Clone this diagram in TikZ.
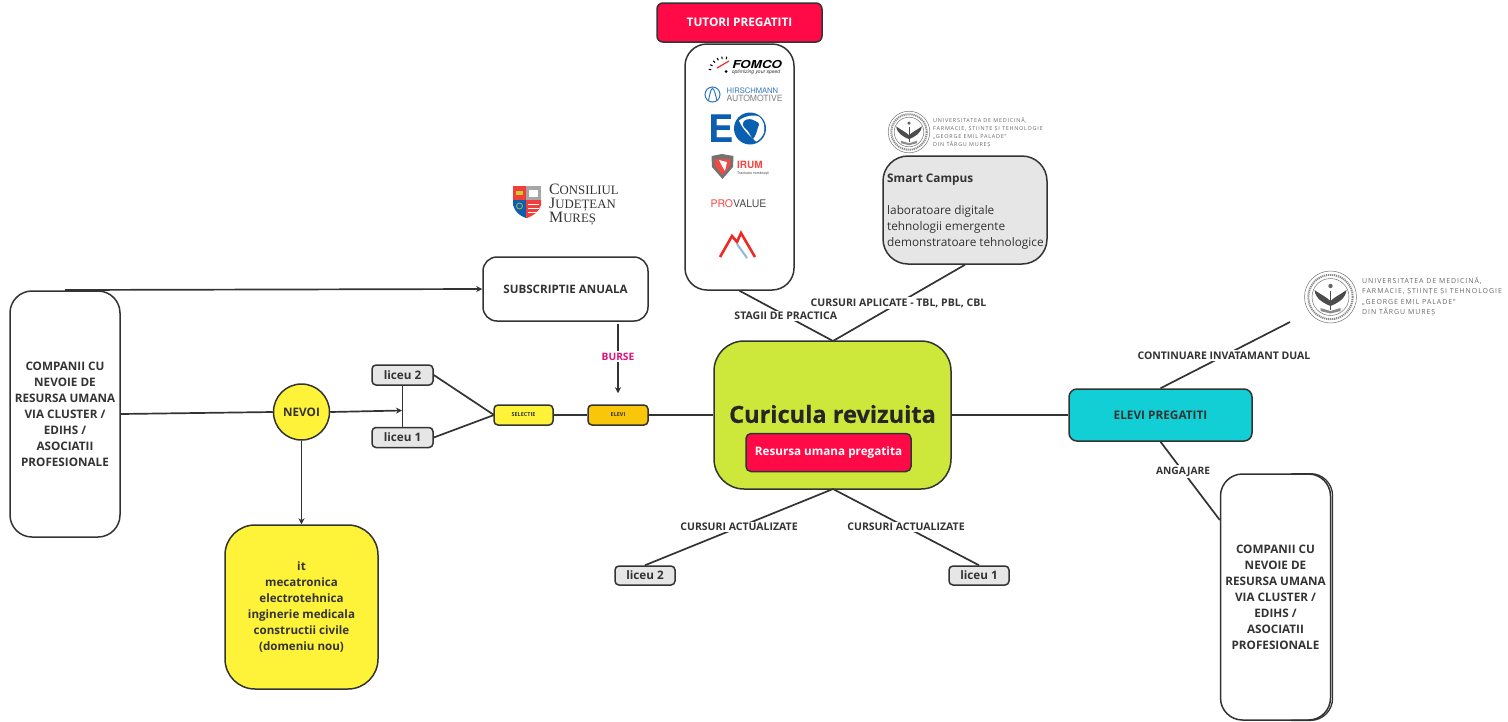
\documentclass[tikz,border=0pt]{standalone}
\usepackage{fontspec}
\setmainfont{Open Sans}
\newfontfamily\heros{TeX Gyre Heros}
\newfontfamily\libserif{Liberation Serif}
\usetikzlibrary{arrows.meta,positioning,calc}
\definecolor{ink}{HTML}{333333}
\definecolor{redbox}{HTML}{FF0A47}
\definecolor{limebox}{HTML}{CDE83A}
\definecolor{yellowbox}{HTML}{FFF33A}
\definecolor{amberbox}{HTML}{F9C60A}
\definecolor{tealbox}{HTML}{12CFD6}
\definecolor{greybox}{HTML}{E6E6E6}
\definecolor{burse}{HTML}{E0107A}
\definecolor{logoblue}{HTML}{0B5FB0}
\definecolor{logored}{HTML}{EE2A24}
\tikzset{
  x=1pt,y=-1pt,
  box/.style={draw=ink,line width=1.5pt,rounded corners=#1,minimum width=0pt,minimum height=0pt,inner sep=0pt,align=center,text=ink},
  box/.default=6pt,
  conn/.style={draw=ink,line width=1.7pt},
  arr/.style={conn,-{Stealth[length=6pt,width=6pt]}},
  lbl/.style={fill=white,inner sep=1.5pt,font=\bfseries\fontsize{10.5}{12}\selectfont,text=ink},
  seal/.style={draw=black!55,line width=.5pt},
  umf/.style={anchor=west,align=left,inner sep=0pt,text=black!60},
}
\newcommand{\umfseal}[2]{%
  \begin{scope}[shift={(#1,#2)}]
    \draw[seal,fill=white] (0,0) circle (26);
    \draw[seal] (0,0) circle (18.5);
    \draw[black!45,line width=2pt,dash pattern=on 1.2pt off .8pt] (0,0) circle (22.2);
    \fill[black!70] (-16,-7) .. controls (-9,-2) and (-4,0) .. (0,4) .. controls (4,0) and (9,-2) .. (16,-7) .. controls (15,2) and (7,6) .. (0,9) .. controls (-7,6) and (-15,2) .. (-16,-7) -- cycle;
    \draw[black!70,line width=1pt] (0,-6) -- (0,13);
    \fill[black!60] (0,-11) circle (2.2);
    \fill[black!45] (-10,11) -- (0,14) -- (10,11) -- (10,14) -- (0,16.5) -- (-10,14) -- cycle;
  \end{scope}}
\begin{document}
\begin{tikzpicture}
\useasboundingbox (0,0) rectangle (1508,721);
\fill[white] (0,0) rectangle (1508,721);

% --- nodes
\node[box=14pt,fill=white,minimum width=165pt,minimum height=64pt,font=\bfseries\fontsize{11.6}{14}\selectfont] (sub) at (565.5,289) {SUBSCRIPTIE ANUALA};
\node[box=22pt,fill=white,minimum width=110pt,minimum height=246pt,font=\bfseries\fontsize{11.7}{16}\selectfont] (compL) at (65,414) {COMPANII CU\\NEVOIE DE\\RESURSA UMANA\\VIA CLUSTER /\\EDIHS /\\ASOCIATII\\PROFESIONALE};
\node[circle,draw=ink,line width=1.5pt,fill=yellowbox,minimum size=56pt,inner sep=0pt,text=ink,font=\bfseries\fontsize{11.7}{14}\selectfont] (nevoi) at (301.5,412) {NEVOI};
\node[box=4pt,fill=greybox,minimum width=61pt,minimum height=20pt,font=\bfseries\fontsize{11.7}{14}\selectfont] (l2a) at (402.5,375) {liceu 2};
\node[box=4pt,fill=greybox,minimum width=61pt,minimum height=20pt,font=\bfseries\fontsize{11.7}{14}\selectfont] (l1a) at (402.5,437.5) {liceu 1};
\node[box=4pt,fill=yellowbox,minimum width=59pt,minimum height=20pt,font=\bfseries\fontsize{5.5}{7}\selectfont] (sel) at (523.5,415) {SELECTIE};
\node[box=4pt,fill=amberbox,minimum width=60pt,minimum height=20pt,font=\bfseries\fontsize{5.5}{7}\selectfont] (elevi) at (618,415) {ELEVI};
\node[box=30pt,fill=limebox,minimum width=237pt,minimum height=148pt] (cur) at (832.5,415) {};
\node[font=\bfseries\fontsize{23.6}{28}\selectfont\addfontfeature{FakeBold=0.4},text=black!85,inner sep=0pt] (curT) at (832.5,414) {Curicula revizuita};
\node[box=5pt,fill=redbox,minimum width=165pt,minimum height=38pt,text=white,font=\bfseries\fontsize{11.7}{14}\selectfont] (res) at (828.5,452.5) {Resursa umana pregatita};
\node[box=8pt,fill=tealbox,minimum width=183pt,minimum height=52pt,font=\bfseries\fontsize{11.8}{14}\selectfont] (elp) at (1160.5,415) {ELEVI PREGATITI};
\node[box=22pt,fill=white,minimum width=110pt,minimum height=246pt,font=\bfseries\fontsize{11.7}{16}\selectfont] (compR) at (1275.5,597) {COMPANII CU\\NEVOIE DE\\RESURSA UMANA\\VIA CLUSTER /\\EDIHS /\\ASOCIATII\\PROFESIONALE};
\node[box=30pt,fill=yellowbox,minimum width=153pt,minimum height=164pt,font=\bfseries\fontsize{11.6}{16}\selectfont] (dom) at (301.5,607) {it\\mecatronica\\electrotehnica\\inginerie medicala\\constructii civile\\(domeniu nou)};
\node[box=4pt,fill=greybox,minimum width=60pt,minimum height=19pt,font=\bfseries\fontsize{11.7}{14}\selectfont] (l2b) at (645,575.5) {liceu 2};
\node[box=4pt,fill=greybox,minimum width=60pt,minimum height=19pt,font=\bfseries\fontsize{11.7}{14}\selectfont] (l1b) at (979,575.5) {liceu 1};
\node[box=6pt,fill=redbox,minimum width=165pt,minimum height=39pt,text=white,font=\bfseries\fontsize{11.8}{13}\selectfont] (tut) at (739.5,22.5) {TUTORI PREGATITI};
\node[box=22pt,fill=white,minimum width=109pt,minimum height=246pt] (logos) at (739.5,167) {};
\node[box=25pt,fill=greybox,minimum width=164pt,minimum height=108pt] (smart) at (965,210) {};
\node[anchor=north west,align=left,inner sep=0pt,text=ink,font=\fontsize{11.8}{16}\selectfont] (smartT) at (887,173.5) {\textbf{Smart Campus}\\[16pt]laboratoare digitale\\tehnologii emergente\\demonstratoare tehnologice};

% right company box thicker edge
\draw[ink,line width=1.3pt,rounded corners=22pt] ($(compR.north east)+(-40,0.4)$) -- ($(compR.north east)+(1.3,0.4)$) -- ($(compR.south east)+(1.3,-0.4)$) -- ($(compR.south east)+(-40,-0.4)$);

% --- free ends
\coordinate (umfEnd) at (1290,322);
\coordinate (liceuJoin) at (402,410.5);
\coordinate (curTop) at (833,341);
\coordinate (curBot) at (833,489);
\coordinate (selIn) at (494,415);
\coordinate (compTop) at (65,290);

% --- connectors
\draw[arr] (compTop) -- (sub.west);
\draw[conn] (compL.east) -- (nevoi.west);
\draw[arr] (nevoi.east) -- (liceuJoin);
\draw[conn] (l2a.south) -- (l1a.north);
\draw[arr] (nevoi.south) -- (dom.north -| nevoi.south);
\draw[conn] (l2a.east) -- (selIn);
\draw[conn] (l1a.east) -- (selIn);
\draw[conn] (sel.east) -- (elevi.west);
\draw[conn] (elevi.east) -- (cur.west);
\draw[arr] (elevi.north |- sub.south) ++(0,2) -- node[pos=.47,fill=white,inner sep=1.5pt,text=burse,font=\bfseries\fontsize{10.2}{12}\selectfont] (burseL) {BURSE} ($(elevi.north)+(0,-11)$);
\draw[conn] (curTop) -- node[lbl,pos=.5,xshift=-.5pt] (stagii) {STAGII DE PRACTICA} (logos.south);
\draw[conn] (curTop) -- node[lbl,pos=.5,xshift=-.5pt] (aplic) {CURSURI APLICATE - TBL, PBL, CBL} (smart.south);
\draw[conn] (curBot) -- node[lbl,pos=.5] (actA) {CURSURI ACTUALIZATE} (l2b.north);
\draw[conn] (curBot) -- node[lbl,pos=.5] (actB) {CURSURI ACTUALIZATE} (l1b.north);
\draw[conn] (cur.east) -- (elp.west);
\draw[conn] (elp.north) -- node[lbl,pos=.49] (cont) {CONTINUARE INVATAMANT DUAL} (umfEnd);
\draw[conn] (elp.south) -- node[lbl,pos=.38,font=\bfseries\fontsize{10.2}{12}\selectfont] (ang) {ANGAJARE} (compR.west |- 0,520);

% --- Logos inside tutor box
% FOMCO
\node[inner sep=0pt,font=\heros\bfseries\itshape\fontsize{11}{12}\selectfont,text=black] (fomco) at (757,64) {\scalebox{1.22}[1]{FOMCO}};
\node[inner sep=0pt,font=\heros\itshape\fontsize{5}{6}\selectfont,text=black!80] (fomcoS) at (756,72.5) {optimizing your speed};
\foreach \a in {190,208,226,244,262,280}{\draw[black,line width=1.1pt] (724,72)++(\a:13) -- ++(\a:2.5);}
\draw[logored,line width=1.2pt] (717,68) -- (729,61);
\fill[black] (726,71.5) circle (1.5);
% Hirschmann
\draw[logoblue!85,line width=1pt] (712.5,94.5) circle (7.5);
\draw[logoblue!85,line width=1pt] (708.5,100.5) .. controls (710,93) and (711,88.5) .. (712.5,88.5) .. controls (714,88.5) and (715,93) .. (717,100.5);
\node[anchor=west,inner sep=0pt,font=\heros\fontsize{7.6}{8}\selectfont,text=logoblue!85] (hirs) at (726.5,90.5) {HIRSCHMANN};
\node[anchor=west,inner sep=0pt,font=\heros\fontsize{8.6}{9}\selectfont,text=black!50] (auto) at (726.5,98.5) {AUTOMOTIVE};
% EO
\node[inner sep=0pt,font=\heros\bfseries\fontsize{38}{38}\selectfont,text=logoblue,anchor=center] (eoE) at (721.5,129) {E};
\fill[logoblue] (750,128.5) circle (16);
\begin{scope}[shift={(750,128.5)}]
\fill[white] (-11,-8) .. controls (-5,-13) and (5,-14) .. (9,-12) .. controls (14,-8) and (15,-2) .. (14,4) .. controls (12,9) and (9,12) .. (6,13) .. controls (1,8) and (-7,2) .. (-11,-8) -- cycle;
\end{scope}
\fill[logoblue] (744,121) .. controls (748,118) and (752,119) .. (755,121) .. controls (759,122) and (760,125) .. (758,127) .. controls (757,132) and (755,137) .. (753,139) .. controls (750,136) and (749,131) .. (746,129) .. controls (743,127) and (742,124) .. (744,121) -- cycle;
% IRUM
\fill[black!55] (711.5,156) -- (722,154) -- (733.5,156) -- (733,167) -- (722.5,179) -- (712,167) -- cycle;
\fill[logored!85] (714.5,159) -- (730.5,159) -- (730,166) -- (722.5,175) -- (715,166) -- cycle;
\fill[white] (719,160) -- (727,162) -- (725,171) -- (722,166) -- cycle;
\node[anchor=west,inner sep=0pt,font=\heros\bfseries\fontsize{10}{10}\selectfont,text=logored!85] (irum) at (737,165) {IRUM};
\node[anchor=west,inner sep=0pt,font=\heros\fontsize{3.6}{4}\selectfont,text=black!70] (irumS) at (737,174) {Tractoare românești};
% PROVALUE
\node[inner sep=0pt,font=\heros\fontsize{10.5}{12}\selectfont] (prov) at (738.5,203.5) {\textcolor{logored!85}{PRO}\textcolor{black!70}{VALUE}};
% M logo
\draw[logored,line width=2.6pt,miter limit=10] (720,257) -- (732,236) -- (737,242) -- (741,233) -- (755,257);
\draw[logoblue!45,line width=2pt] (737,244) -- (747,258);

% --- Consiliul logo
\fill[logored!90] (513,186) rectangle (526,200);
\fill[black!35] (526,186) rectangle (541,200);
\fill[logoblue] (513,200) -- (526,200) -- (526,218) .. controls (520,216) and (515,212) .. (513,205) -- cycle;
\fill[logored!90] (526,200) -- (541,200) -- (541,205) .. controls (539,212) and (533,216) .. (527,218) -- (526,218) -- cycle;
\fill[yellow!80!black] (516,191) rectangle (523,195);
\fill[white] (529,190) rectangle (538,197);
\foreach \yy in {204,208,212}{\draw[white,line width=.8pt] (528,\yy) -- (539,\yy);}
\draw[yellow!70!black,line width=.8pt] (519.5,206) circle (3);
\node[anchor=west,align=left,inner sep=0pt,text=black!80,font=\libserif\fontsize{15.8}{14}\selectfont] (cjm) at (549,204.5) {C{\fontsize{12.8}{14}\selectfont ONSILIUL}\\J{\fontsize{12.8}{14}\selectfont UDEȚEAN}\\M{\fontsize{12.8}{14}\selectfont UREȘ}};

% --- UMF logos
\begin{scope}[shift={(909,132)},scale=.8]
\umfseal{0}{0}
\end{scope}
\node[umf,font=\fontsize{5.45}{8}\selectfont\addfontfeature{LetterSpace=14}] (umf1T) at (933,133) {UNIVERSITATEA DE MEDICINĂ,\\FARMACIE, ȘTIINȚE ȘI TEHNOLOGIE\\„GEORGE EMIL PALADE”\\DIN TÂRGU MUREȘ};
\umfseal{1330.5}{297}
\node[umf,font=\fontsize{6.95}{10.3}\selectfont\addfontfeature{LetterSpace=14}] (umf2T) at (1362,296.5) {UNIVERSITATEA DE MEDICINĂ,\\FARMACIE, ȘTIINȚE ȘI TEHNOLOGIE\\„GEORGE EMIL PALADE”\\DIN TÂRGU MUREȘ};
\end{tikzpicture}
\end{document}
